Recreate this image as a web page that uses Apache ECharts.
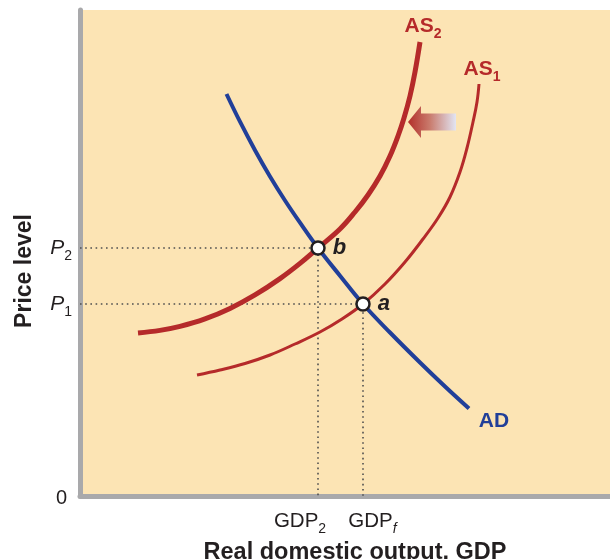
<!DOCTYPE html>
<html>
<head>
<meta charset="utf-8">
<script src="https://cdn.jsdelivr.net/npm/echarts@6/dist/echarts.min.js"></script>
<style>
html,body{margin:0;padding:0;background:#fff;}
#c{width:610px;height:559px;}
</style>
</head>
<body>
<div id="c"></div>
<script>
// ---- data (x: real output units, y: price level units) ----
const xAxisName = 'Real domestic output, GDP';
const yAxisName = 'Price level';
const P1 = 192, P2 = 248;
const GDP2 = 238, GDPf = 283;
const yTickValues = [0, P1, P2];
const yTickLabels = ['0', 'P1', 'P2'];
const xTickValues = [GDP2, GDPf];
const xTickLabels = ['GDP2', 'GDPf'];

const adCurve = [[146.5,402],[160,374.3],[175,345.8],[190,319.5],[205,295.5],[220,273.3],[238,248],[260,220.3],[283,192],[310,163.5],[340,133.5],[365,109.5],[389,87.5]];
const as2Curve = [[58,163],[80,165.6],[100,169.6],[125,177.1],[150,187.6],[175,201.1],[200,217.4],[220,232.6],[238,248],[260,267],[275,284],[288,301],[300,320],[310,340],[318,360],[324,378],[330,400],[335,424],[340,454]];
const as1Curve = [[117,121],[140,126],[165,132.5],[190,141],[215,152],[240,164],[262,177],[283,192],[305,212],[325,234],[343,257],[358,278],[370,299],[380,324],[387,348],[393,374],[397,394],[399,412]];
const equilibria = [[GDP2, P2, 'b'], [GDPf, P1, 'a']];
const shiftArrow = [[376, 374, 328, 374]]; // from x, from y, to x, to y

const FONT = 'Liberation Sans, Arial, Helvetica, sans-serif';
const RED = '#b52a2a';
const BLUE = '#213f99';
const TXT = '#231f20';

const chart = echarts.init(document.getElementById('c'), null, {renderer: 'canvas'});

const subRich = (size, color, bold) => ({
  m: {fontSize: size, lineHeight: 30, color: color, fontWeight: bold ? 'bold' : 'normal', fontFamily: FONT},
  mi: {fontSize: size, lineHeight: 30, color: color, fontStyle: 'italic', fontFamily: FONT},
  s: {fontSize: Math.round(size * 0.68), lineHeight: 14, verticalAlign: 'bottom', color: color, fontWeight: bold ? 'bold' : 'normal', fontFamily: FONT},
});

const xLabelRich = Object.assign(subRich(20.5, TXT, false), {
  gap: {width: 36, fontSize: 10},
  pad: {width: 19, fontSize: 10},
  si: {fontSize: 14, lineHeight: 14, verticalAlign: 'bottom', color: TXT, fontStyle: 'italic', fontFamily: FONT}
});

const baseX = {
  type: 'value', min: 0, max: 530,
  axisTick: {show: false},
  splitLine: {show: false}
};

const option = {
  animation: false,
  grid: {left: 80, top: 10, width: 530, height: 486, show: true, backgroundColor: '#fce4b4', borderWidth: 0, outerBoundsMode: 'none'},
  xAxis: [
    Object.assign({}, baseX, {
      name: xAxisName, nameLocation: 'middle', nameGap: 34,
      nameTextStyle: {fontSize: 23.5, fontWeight: 'bold', color: TXT, fontFamily: FONT, padding: [0, 0, 0, 20]},
      axisLine: {show: true, onZero: false, lineStyle: {color: '#a9a9ab', width: 5}},
      axisLabel: {
        customValues: [xTickValues[0]], margin: 10, hideOverlap: false,
        formatter: v => '{m|GDP}{s|' + xTickLabels[0].slice(3) + '}{gap| }',
        rich: xLabelRich
      }
    }),
    Object.assign({}, baseX, {
      position: 'bottom',
      axisLine: {show: false},
      axisLabel: {
        customValues: [xTickValues[1]], margin: 10, hideOverlap: false,
        formatter: v => '{pad| }{m|GDP}{si|' + xTickLabels[1].slice(3) + '}',
        rich: xLabelRich
      }
    })
  ],
  yAxis: {
    type: 'value', min: 0, max: 486,
    name: yAxisName, nameLocation: 'middle', nameGap: 44, nameRotate: 90,
    nameTextStyle: {fontSize: 23, fontWeight: 'bold', color: TXT, fontFamily: FONT, padding: [0, 36, 0, 0]},
    axisLine: {show: true, onZero: false, lineStyle: {color: '#a9a9ab', width: 5}},
    axisTick: {show: false},
    splitLine: {show: false},
    axisLabel: {
      customValues: yTickValues, margin: 8, hideOverlap: false,
      formatter: v => {
        const t = yTickLabels[yTickValues.indexOf(v)];
        if (t === '0') return '{z|0}';
        return '{mi|P}{s|' + t.slice(1) + '}';
      },
      rich: Object.assign(subRich(21, TXT, false), {
        z: {fontSize: 20, color: TXT, fontFamily: FONT, padding: [4, 5, 0, 0]}
      })
    }
  },
  series: [
    {
      type: 'line', name: 'guideP2', data: [[0, P2], [GDP2, P2], [GDP2, 0]],
      symbol: 'none', silent: true, z: 1,
      lineStyle: {color: '#4f4f4f', width: 1.6, type: [1.6, 3.6]}
    },
    {
      type: 'line', name: 'guideP1', data: [[0, P1], [GDPf, P1], [GDPf, 0]],
      symbol: 'none', silent: true, z: 1,
      lineStyle: {color: '#4f4f4f', width: 1.6, type: [1.6, 3.6]}
    },
    {
      type: 'line', name: 'AS1', data: as1Curve, smooth: 0.4, symbol: 'none', z: 2,
      lineStyle: {color: RED, width: 3}
    },
    {
      type: 'line', name: 'AS2', data: as2Curve, smooth: 0.4, symbol: 'none', z: 2,
      lineStyle: {color: RED, width: 5}
    },
    {
      type: 'line', name: 'AD', data: adCurve, smooth: 0.4, symbol: 'none', z: 3,
      lineStyle: {color: BLUE, width: 4}
    },
    {
      type: 'custom', name: 'shift', z: 3,
      data: shiftArrow,
      renderItem: (params, api) => {
        const p0 = api.coord([api.value(0), api.value(1)]);
        const p1 = api.coord([api.value(2), api.value(3)]);
        const headLen = 13, headHalf = 16, shaftHalf = 8.5;
        const y = p1[1];
        const points = [
          [p1[0], y],
          [p1[0] + headLen, y - headHalf],
          [p1[0] + headLen, y - shaftHalf],
          [p0[0], y - shaftHalf],
          [p0[0], y + shaftHalf],
          [p1[0] + headLen, y + shaftHalf],
          [p1[0] + headLen, y + headHalf]
        ];
        return {
          type: 'polygon',
          shape: {points: points},
          style: {
            fill: new echarts.graphic.LinearGradient(0, 0, 1, 0, [
              {offset: 0, color: '#b3302a'},
              {offset: 0.45, color: '#c97a6c'},
              {offset: 1, color: '#e2e5f3'}
            ])
          }
        };
      }
    },
    {
      type: 'scatter', name: 'curveLabels', z: 4, silent: true,
      symbolSize: 0,
      itemStyle: {opacity: 1, color: 'rgba(0,0,0,0)'},
      data: [
        {value: as2Curve[as2Curve.length - 1], label: {formatter: '{m|AS}{s|2}', offset: [3, -16]}},
        {value: as1Curve[as1Curve.length - 1], label: {formatter: '{m|AS}{s|1}', offset: [3, -15]}},
        {value: adCurve[adCurve.length - 1], label: {formatter: '{b|AD}', offset: [25, 13]}}
      ],
      label: {
        show: true, position: 'inside', opacity: 1,
        rich: Object.assign(subRich(21, RED, true), {
          b: {fontSize: 21, fontWeight: 'bold', color: BLUE, fontFamily: FONT}
        })
      }
    },
    {
      type: 'scatter', name: 'equilibria', z: 5,
      data: equilibria,
      symbol: 'circle', symbolSize: 13,
      itemStyle: {color: '#ffffff', borderColor: '#231f20', borderWidth: 2.5, opacity: 1},
      label: {
        show: true, position: 'right', distance: 7,
        formatter: p => p.value[2],
        fontSize: 22, fontWeight: 'bold', fontStyle: 'italic', color: TXT, fontFamily: FONT
      }
    }
  ]
};
chart.setOption(option);
</script>
</body>
</html>
